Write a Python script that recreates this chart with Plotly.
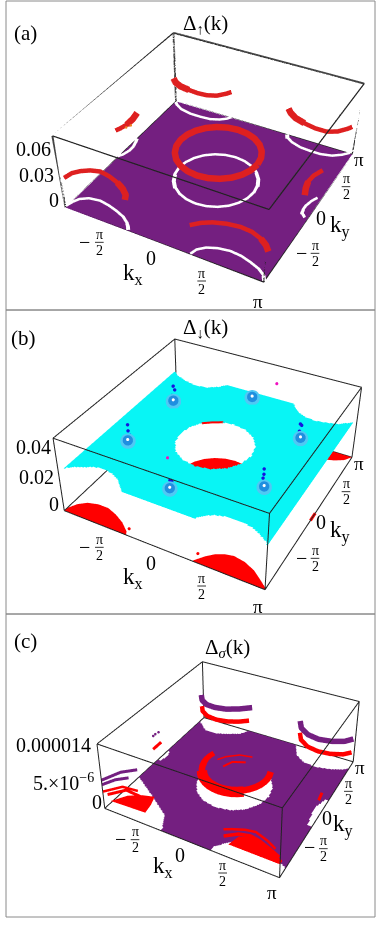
import numpy as np
import plotly.graph_objects as go

# all k values in units of pi
PURPLE = "#741f80"
CYAN = "#08f5f5"
RED = "#ff0000"
RED_A = "#de2020"

zmax_a = 0.07
zmax_b = 0.05
zmax_c = 1.4e-5

ring_kx = [.42, .406, .366, .303, .22, .124, .02, -.084, -.18, -.263, -.326, -.366, -.38, -.366, -.326, -.263, -.18, -.084, .02, .124, .22, .303, .366, .406, .42]
ring_ky = [0, .104, .2, .283, .346, .386, .4, .386, .346, .283, .2, .104, 0, -.104, -.2, -.283, -.346, -.386, -.4, -.386, -.346, -.283, -.2, -.104, 0]

# panel a, white arcs on the plane
white_fl_kx = [-1.0, -.98, -.95, -.88, -.77, -.66, -.56, -.46, -.39, -.35, -.33]
white_fl_ky = [-.98, -.91, -.85, -.80, -.78, -.80, -.83, -.87, -.92, -.96, -.99]
white_fr_kx = [.31, .33, .39, .48, .59, .70, .80, .90, .97, 1.0]
white_fr_ky = [-1.0, -.93, -.87, -.83, -.81, -.82, -.85, -.89, -.94, -.99]
white_bl_kx = [-1.0, -.95, -.87, -.74, -.62, -.51, -.42, -.36, -.33]
white_bl_ky = [.98, .93, .88, .85, .85, .86, .90, .95, 1.0]
white_br_kx = [.30, .33, .40, .51, .62, .73, .84, .92, .98]
white_br_ky = [1.0, .94, .89, .85, .84, .84, .87, .93, 1.0]
white_l_kx = [-1.0, -.97, -.95, -.95, -.97, -.99]
white_l_ky = [-.13, -.08, 0, .07, .15, .22]
white_r_kx = [.97, .93, .92, .92, .94, .97]
white_r_ky = [-.10, -.06, 0, .05, .14, .21]

# panel a, raised red arcs
red_z_a = 0.0273
red_fl_kx = [-1.0, -.98, -.93, -.86, -.77, -.66, -.55, -.46, -.39, -.36]
red_fl_ky = [-.95, -.86, -.80, -.75, -.72, -.74, -.78, -.83, -.89, -.95]
red_fr_kx = [.29, .36, .44, .55, .67, .78, .88, .95, 1.0]
red_fr_ky = [-.97, -.90, -.85, -.81, -.79, -.80, -.84, -.89, -.95]
red_bl_kx = [-.99, -.93, -.85, -.74, -.63, -.53, -.44, -.37, -.33]
red_bl_ky = [.95, .89, .85, .83, .82, .83, .87, .95, 1.02]
red_br_kx = [.29, .34, .42, .53, .65, .77, .86, .93, .96]
red_br_ky = [1.0, .94, .88, .84, .81, .81, .86, .95, 1.01]
red_l_kx = [-1.01, -.98, -.96, -.96, -.98]
red_l_ky = [-.15, -.07, .01, .12, .23]
red_r_kx = [.97, .94, .92, .93, .97]
red_r_ky = [-.16, -.07, .03, .13, .24]
orange_kx = [-.94, -.92]
orange_ky = [-.03, .02]

# panel b, cyan sheet and its holes
plane_b_kx = [-.955, 1.0]
plane_b_ky = [-1.0, .92]
plane_b_z = 0.03
hole_b_fl = [(-.97, -1.05), (-.94, -.97), (-.88, -.92), (-.81, -.89), (-.73, -.84), (-.65, -.82), (-.56, -.84), (-.47, -.88), (-.39, -.95), (-.31, -1.05)]
hole_b_fr = [(.33, -1.05), (.38, -.99), (.43, -.93), (.50, -.89), (.60, -.86), (.70, -.86), (.80, -.88), (.90, -.93), (.97, -.98), (1.02, -1.05)]
hole_b_br = [(1.02, .95), (.98, .88), (.88, .80), (.78, .77), (.68, .75), (.58, .76), (.47, .82), (.39, .92), (.36, .97), (.36, 1.0), (1.02, 1.0)]
hole_b_bl = [(-.30, 1.0), (-.33, .96), (-.41, .86), (-.51, .79), (-.63, .77), (-.75, .80), (-.87, .85), (-.96, .92), (-1.0, .97), (-1.0, 1.0)]
hole_b_c = [(.385, -.04), (.358, .096), (.281, .211), (.166, .288), (.03, .315), (-.106, .288), (-.221, .211), (-.298, .096), (-.325, -.04), (-.298, -.176), (-.221, -.291), (-.106, -.368), (.03, -.395), (.166, -.368), (.281, -.291), (.358, -.176)]

# panel b, red patches at the bottom
patch_b_fl_kx = [-1.0, -.99, -.95, -.88, -.78, -.67, -.56, -.45, -.35, -.33]
patch_b_fl_ky = [-1.0, -.94, -.87, -.81, -.78, -.78, -.82, -.88, -.96, -1.0]
patch_b_fr_kx = [.33, .35, .40, .46, .53, .61, .72, .83, .92, .98, 1.0]
patch_b_fr_ky = [-1.0, -.97, -.90, -.84, -.80, -.78, -.80, -.85, -.92, -.97, -1.0]
patch_b_br_kx = [.30, .33, .41, .52, .64, .76, .87, .95, 1.0]
patch_b_br_ky = [1.0, .92, .87, .84, .82, .83, .87, .92, 1.0]
sliver_kx = [-.24, -.16, -.07]
sliver_ky = [.20, .26, .31]
dash_b_kx = [1.0, 1.0]
dash_b_ky = [-.06, .05]
dots_b_kx = [-.35, .33]
dots_b_ky = [-.92, -.90]
# blobs sit a little above the sheet so the sheet does not cut them
spot_kx = [-.626, .014, -.646, .694, .034, .704]
spot_ky = [.328, .748, -.432, .338, -.832, -.442]
tower_kx = [-.66, -.65, -.67, -.02, -.01, -.68, -.68, -.67, .66, .67, .66, 0, .01, .67, .67, .66]
tower_ky = [.39, .40, .38, .81, .80, -.37, -.37, -.36, .40, .41, .39, -.77, -.76, -.38, -.38, -.37]
tower_z = [.0414, .0386, .035, .0334, .0323, .0414, .0373, .0341, .0402, .0391, .0357, .0357, .0345, .0418, .0384, .0352]
magenta_kx = [.20, -.22]
magenta_ky = [.90, -.45]
magenta_z = [.0415, .032]

# panel c, plane holes
hole_c_c = [(.41, -.02), (.379, .137), (.29, .27), (.157, .359), (0, .39), (-.157, .359), (-.29, .27), (-.379, .137), (-.41, -.02), (-.379, -.177), (-.29, -.31), (-.157, -.399), (0, -.43), (.157, -.399), (.29, -.31), (.379, -.177)]
hole_c_fl = [(-1.05, -1.05), (-1.05, -.38), (-.65, -.63), (-.40, -.80), (-.31, -.97), (-.30, -1.05)]
hole_c_fr = [(.28, -1.05), (.28, -.95), (.41, -.80), (.55, -.77), (.73, -.78), (.9, -.82), (1.0, -.88), (1.05, -.88), (1.05, -1.05)]
hole_c_r = [(1.05, -.23), (.96, -.23), (.92, .03), (.97, .21), (1.05, .21)]
hole_c_l = [(-1.05, -.03), (-.97, -.02), (-.95, .08), (-.98, .16), (-1.05, .16)]
hole_c_bl = [(-1.05, 1.05), (-1.05, .96), (-1.01, .92), (-.82, .76), (-.70, .76), (-.56, .82), (-.42, .90), (-.34, 1.05)]
hole_c_br = [(.28, 1.05), (.30, .99), (.38, .82), (.51, .73), (.66, .71), (.81, .75), (.95, .82), (1.05, .92), (1.05, 1.05)]

# panel c, raised pieces
disk_c_kx = [.40, .368, .292, .175, .03, -.115, -.232, -.308, -.34, -.308, -.232, -.115, .03, .175, .292, .368]
disk_c_ky = [-.03, .112, .232, .312, .34, .312, .232, .112, -.03, -.172, -.292, -.372, -.40, -.372, -.292, -.172]
band_c_kx = [.378, .394, .40, .394, .378, .35, .313, .268, .215, .157, .094, .03, -.034, -.097, -.155, -.208, -.253, -.29, -.318, -.334, -.34, -.334, -.318]
band_c_ky = [.097, .034, -.03, -.094, -.157, -.215, -.268, -.313, -.35, -.378, -.394, -.40, -.394, -.378, -.35, -.313, -.268, -.215, -.157, -.094, -.03, .034, .097]
thin_c1_kx = [-.215, -.16, -.04, .10]
thin_c1_ky = [-.01, .08, .18, .21]
thin_c2_kx = [-.10, -.05, .08]
thin_c2_ky = [-.09, .03, .09]
purple_bl_kx = [-1.0, -.92, -.82, -.70, -.56, -.42, -.30]
purple_bl_ky = [.95, .84, .78, .77, .80, .88, .98]
redc_bl_kx = [-1.0, -.93, -.82, -.68, -.54, -.42, -.32]
redc_bl_ky = [.96, .86, .79, .77, .80, .86, .94]
purple_br_kx = [.33, .40, .52, .66, .80, .93, 1.0]
purple_br_ky = [.98, .85, .76, .73, .76, .83, .92]
redc_br_kx = [.33, .40, .52, .66, .80, .93, 1.0]
redc_br_ky = [.99, .86, .77, .74, .76, .82, .90]
purple_fl1_kx = [-1.0, -.91, -.785]
purple_fl1_ky = [-1.0, -.80, -.685]
purple_fl2_kx = [-1.0, -.93, -.83]
purple_fl2_ky = [-1.0, -.87, -.78]
redc_fl1_kx = [-1.0, -.87, -.69]
redc_fl1_ky = [-1.0, -.84, -.82]
redc_fl2_kx = [-.976, -.85, -.605]
redc_fl2_ky = [-.96, -.81, -.83]
patch_c_fl_kx = [-.95, -.85, -.72, -.59, -.55, -.53]
patch_c_fl_ky = [-.95, -.80, -.72, -.68, -.80, -.93]
patch_c_fr_kx = [.47, .505, .65, .81, 1.0, 1.0]
patch_c_fr_ky = [-1.0, -.86, -.80, -.86, -.95, -1.0]
mid_c_fr_kx = [.42, .53, .64, .745, .88, .99]
mid_c_fr_ky = [-1.0, -.91, -.88, -.90, -.95, -1.0]
out_c_fr_kx = [.42, .49, .60, .70, .84, .95]
out_c_fr_ky = [-1.0, -.96, -.91, -.89, -.94, -1.0]
dots_c_l_kx = [-1.0, -.99, -1.0]
dots_c_l_ky = [-.05, 0, -.09]
dash_c_l_kx = [-1.0, -1.0]
dash_c_l_ky = [-.11, .05]
dash_c_r_kx = [.986, .97]
dash_c_r_ky = [-.05, .08]

W, H = 382, 926
FLAT = dict(ambient=1, diffuse=0, specular=0, roughness=1, fresnel=0)


def in_polygon(xx, yy, poly):
    inside = np.zeros(xx.shape, bool)
    n = len(poly)
    for i in range(n):
        x1, y1 = poly[i]
        x2, y2 = poly[(i + 1) % n]
        cross = (y1 > yy) != (y2 > yy)
        inside ^= cross & (xx < (x2 - x1) * (yy - y1) / (y2 - y1 + 1e-12) + x1)
    return inside


def plane(kx_range, ky_range, level, holes, color, scene):
    gx = np.linspace(kx_range[0], kx_range[1], 150)
    gy = np.linspace(ky_range[0], ky_range[1], 150)
    xx, yy = np.meshgrid(gx, gy)
    z = np.full(xx.shape, float(level))
    for poly in holes:
        z[in_polygon(xx, yy, poly)] = np.nan
    return go.Surface(x=gx, y=gy, z=z, scene=scene, showscale=False, hoverinfo="skip",
                      colorscale=[[0, color], [1, color]], lighting=FLAT)


def line(kx, ky, z, color, width, scene):
    return go.Scatter3d(x=kx, y=ky, z=[z] * len(kx), mode="lines", line=dict(color=color, width=width),
                        scene=scene, hoverinfo="skip", showlegend=False)


def dots(kx, ky, z, color, size, scene):
    zs = [z] * len(kx) if np.isscalar(z) else z
    return go.Scatter3d(x=kx, y=ky, z=zs, mode="markers", marker=dict(color=color, size=size, line=dict(width=0)),
                        scene=scene, hoverinfo="skip", showlegend=False)


def patch(kx, ky, z, color, scene):
    n = len(kx)
    return go.Mesh3d(x=kx, y=ky, z=[z] * n, i=[0] * (n - 2), j=list(range(1, n - 1)), k=list(range(2, n)),
                     color=color, scene=scene, lighting=FLAT, flatshading=True, hoverinfo="skip")


def box(zmax, scene, width=2):
    xs, ys, zs = [], [], []
    cx = [-1, 1, 1, -1, -1]
    cy = [-1, -1, 1, 1, -1]
    for level in (0, zmax):
        xs += cx + [None]
        ys += cy + [None]
        zs += [level] * 5 + [None]
    for x, y in zip(cx[:4], cy[:4]):
        xs += [x, x, None]
        ys += [y, y, None]
        zs += [0, zmax, None]
    return go.Scatter3d(x=xs, y=ys, z=zs, mode="lines", line=dict(color="#222222", width=width),
                        scene=scene, hoverinfo="skip", showlegend=False)


fig = go.Figure()

# (a)
eps_a = zmax_a * 0.004
fig.add_trace(plane([-1, 1], [-1, 1], 0, [], PURPLE, "scene"))
for kx, ky in [(ring_kx, ring_ky), (white_fl_kx, white_fl_ky), (white_fr_kx, white_fr_ky), (white_bl_kx, white_bl_ky),
               (white_br_kx, white_br_ky), (white_l_kx, white_l_ky), (white_r_kx, white_r_ky)]:
    fig.add_trace(line(kx, ky, eps_a, "white", 8, "scene"))
fig.add_trace(line(ring_kx, [v + .04 for v in ring_ky], red_z_a, RED_A, 13, "scene"))
for kx, ky in [(red_fl_kx, red_fl_ky), (red_fr_kx, red_fr_ky), (red_bl_kx, red_bl_ky), (red_br_kx, red_br_ky),
               (red_l_kx, red_l_ky), (red_r_kx, red_r_ky)]:
    fig.add_trace(line(kx, ky, red_z_a, RED_A, 9, "scene"))
# arcs get thicker towards one end
for kx, ky in [(red_fl_kx[-4:], red_fl_ky[-4:]), (red_fr_kx[-3:], red_fr_ky[-3:]), (red_bl_kx[:4], red_bl_ky[:4]),
               (red_br_kx[:4], red_br_ky[:4]), (red_l_kx[2:], red_l_ky[2:]), (red_r_kx[:3], red_r_ky[:3])]:
    fig.add_trace(line(kx, ky, red_z_a, RED_A, 13, "scene"))
fig.add_trace(dots(orange_kx, orange_ky, red_z_a, "#f08020", 1.5, "scene"))
fig.add_trace(box(zmax_a, "scene", 2.4))
# the top back edges and left upright come out too faint in this camera, go over them again
fig.add_trace(line([-1, 1, 1], [1, 1, -1], zmax_a, "#444444", 4, "scene"))
fig.add_trace(go.Scatter3d(x=[-1, -1, None, -1, -1], y=[-1, -1, None, 1, 1], z=[0, zmax_a, None, 0, zmax_a], mode="lines",
                           line=dict(color="#444444", width=4), scene="scene", hoverinfo="skip", showlegend=False))

# (b)
fig.add_trace(plane(plane_b_kx, plane_b_ky, plane_b_z, [hole_b_fl, hole_b_fr, hole_b_br, hole_b_bl, hole_b_c], CYAN, "scene2"))
fig.add_trace(patch(patch_b_fl_kx, patch_b_fl_ky, 0, RED, "scene2"))
fig.add_trace(patch(patch_b_fr_kx, patch_b_fr_ky, 0, RED, "scene2"))
fig.add_trace(patch(patch_b_br_kx, patch_b_br_ky, 0, RED, "scene2"))
fig.add_trace(patch(ring_kx, ring_ky, 0, RED, "scene2"))
fig.add_trace(line(sliver_kx, sliver_ky, plane_b_z, RED, 4, "scene2"))
fig.add_trace(line(dash_b_kx, dash_b_ky, 0, RED, 6, "scene2"))
fig.add_trace(dots(dots_b_kx, dots_b_ky, 0, RED, 1.8, "scene2"))
fig.add_trace(dots(spot_kx, spot_ky, plane_b_z + .0035, "#50c8f4", 9, "scene2"))
fig.add_trace(dots(spot_kx, spot_ky, plane_b_z + .0040, "#1f8fe0", 6, "scene2"))
fig.add_trace(dots(spot_kx, spot_ky, plane_b_z + .0045, "white", 1.8, "scene2"))
fig.add_trace(dots(tower_kx, tower_ky, tower_z, "#1414e0", 2, "scene2"))
fig.add_trace(dots(magenta_kx, magenta_ky, magenta_z, "#f010c0", 1.8, "scene2"))
fig.add_trace(box(zmax_b, "scene2"))

# (c)
r_hi, r_lo = zmax_c * .24, zmax_c * .45
fig.add_trace(plane([-1, 1], [-1, 1], 0, [hole_c_c, hole_c_fl, hole_c_fr, hole_c_r, hole_c_l, hole_c_bl, hole_c_br], PURPLE, "scene3"))
fig.add_trace(patch(disk_c_kx, disk_c_ky, zmax_c * .27, PURPLE, "scene3"))
fig.add_trace(line(band_c_kx, band_c_ky, zmax_c * .29, RED, 13, "scene3"))
fig.add_trace(line(band_c_kx[7:18], band_c_ky[7:18], zmax_c * .27, RED, 21, "scene3"))
fig.add_trace(line(thin_c1_kx, thin_c1_ky, zmax_c * .32, RED, 3, "scene3"))
fig.add_trace(line(thin_c2_kx, thin_c2_ky, zmax_c * .32, RED, 4, "scene3"))
fig.add_trace(line(purple_bl_kx, purple_bl_ky, r_lo, PURPLE, 11, "scene3"))
fig.add_trace(line(redc_bl_kx, redc_bl_ky, r_hi, RED, 9, "scene3"))
fig.add_trace(line(purple_br_kx, purple_br_ky, r_lo, PURPLE, 11, "scene3"))
fig.add_trace(line(redc_br_kx, redc_br_ky, r_hi, RED, 9, "scene3"))
fig.add_trace(line(purple_fl1_kx, purple_fl1_ky, zmax_c * .45, PURPLE, 6, "scene3"))
fig.add_trace(line(purple_fl2_kx, purple_fl2_ky, zmax_c * .38, PURPLE, 6, "scene3"))
fig.add_trace(line(redc_fl1_kx, redc_fl1_ky, zmax_c * .27, RED, 5, "scene3"))
fig.add_trace(line(redc_fl2_kx, redc_fl2_ky, zmax_c * .20, RED, 6, "scene3"))
fig.add_trace(patch(patch_c_fl_kx, patch_c_fl_ky, zmax_c * .10, RED, "scene3"))
fig.add_trace(patch(patch_c_fr_kx, patch_c_fr_ky, zmax_c * .20, RED, "scene3"))
fig.add_trace(line(mid_c_fr_kx, mid_c_fr_ky, zmax_c * .30, RED, 7, "scene3"))
fig.add_trace(line(out_c_fr_kx, out_c_fr_ky, zmax_c * .40, RED, 5, "scene3"))
fig.add_trace(dots(dots_c_l_kx, dots_c_l_ky, r_lo, PURPLE, 1.5, "scene3"))
fig.add_trace(line(dash_c_l_kx, dash_c_l_ky, r_hi, RED, 6, "scene3"))
fig.add_trace(line(dash_c_r_kx, dash_c_r_ky, r_hi, RED, 6, "scene3"))
fig.add_trace(box(zmax_c, "scene3"))


def scene_layout(x0, y0, y1, aspect_z, zmax, eye, center, up):
    hidden = dict(visible=False, showgrid=False, zeroline=False, showbackground=False)
    return dict(
        domain=dict(x=[x0 / W, 1], y=[1 - y1 / H, 1 - y0 / H]),
        xaxis=dict(range=[-1, 1], **hidden),
        yaxis=dict(range=[-1, 1], **hidden),
        zaxis=dict(range=[0, zmax], **hidden),
        aspectmode="manual",
        aspectratio=dict(x=1, y=1, z=aspect_z),
        dragmode="orbit",
        camera=dict(eye=dict(zip("xyz", eye)), center=dict(zip("xyz", center)), up=dict(zip("xyz", up))),
    )


SERIF = "Liberation Serif"
annotations = []
shapes = []


def text(zx, zy, label, size=20, top=0):
    annotations.append(dict(x=zx / 3 / W, y=1 - (top + zy / 3) / H, xref="paper", yref="paper", text=label, showarrow=False,
                            xanchor="center", yanchor="middle", font=dict(family=SERIF, size=size, color="black")))


def fraction(zx, zy, top):
    text(zx, zy - 24, "π", 14, top)
    text(zx, zy + 24, "2", 14, top)
    shapes.append(dict(type="line", xref="paper", yref="paper", x0=(zx - 13) / 3 / W, x1=(zx + 13) / 3 / W,
                       y0=1 - (top + zy / 3) / H, y1=1 - (top + zy / 3) / H, line=dict(color="black", width=0.8)))


def ticks(top, kx_pts, ky_pts):
    mx, fx1, zero_x, lab_x, fx2, pi_x = kx_pts
    my, fy1, zero_y, lab_y, fy2, pi_y = ky_pts
    text(mx[0], mx[1], "−", 20, top)
    fraction(fx1[0], fx1[1], top)
    text(zero_x[0], zero_x[1], "0", 20, top)
    text(lab_x[0], lab_x[1], "k<sub>x</sub>", 23, top)
    fraction(fx2[0], fx2[1], top)
    text(pi_x[0], pi_x[1], "π", 19, top)
    text(my[0], my[1], "−", 20, top)
    fraction(fy1[0], fy1[1], top)
    text(zero_y[0], zero_y[1], "0", 20, top)
    text(lab_y[0], lab_y[1], "k<sub>y</sub>", 23, top)
    fraction(fy2[0], fy2[1], top)
    text(pi_y[0], pi_y[1], "π", 19, top)


text(75, 100, "(a)", 21)
text(618, 72, "Δ<sub>↑</sub>(k)", 21)
text(100, 447, "0.06")
text(108, 525, "0.03")
text(163, 600, "0")
ticks(0, [(253, 725), (298, 727), (452, 775), (398, 822), (605, 843), (775, 905)],
      [(905, 760), (945, 760), (962, 653), (1020, 680), (1038, 560), (1078, 478)])

text(70, 100, "(b)", 21, 305)
text(618, 68, "Δ<sub>↓</sub>(k)", 21, 305)
text(100, 425, "0.04", 20, 305)
text(108, 515, "0.02", 20, 305)
text(163, 597, "0", 20, 305)
ticks(305, [(253, 725), (298, 727), (452, 773), (400, 820), (605, 843), (775, 903)],
      [(905, 760), (945, 760), (962, 650), (1020, 680), (1038, 560), (1078, 475)])

text(75, 88, "(c)", 21, 612)
text(683, 108, "Δ<sub><i>σ</i></sub>(k)", 21, 612)
text(160, 400, "0.000014", 20, 612)
text(190, 510, "5.×10<sup>−6</sup>", 20, 612)
text(290, 570, "0", 20, 612)
ticks(612, [(360, 680), (405, 683), (540, 728), (490, 765), (668, 783), (815, 840)],
      [(928, 705), (970, 710), (982, 618), (1030, 640), (1045, 538), (1080, 467)])

for y0, y1 in [(1, 310), (310, 614), (614, 917)]:
    shapes.append(dict(type="rect", xref="paper", yref="paper", x0=6 / W, x1=375 / W, y0=1 - y1 / H, y1=1 - y0 / H,
                       line=dict(color="#8a8a8a", width=1)))

fig.update_layout(
    width=W,
    height=H,
    margin=dict(l=0, r=0, t=0, b=0),
    paper_bgcolor="white",
    showlegend=False,
    annotations=annotations,
    shapes=shapes,
    scene=scene_layout(26, 0, 620, .386, zmax_a, [1.339, -2.509, 2.004], [.221, -.506, -.503], [-.352, .649, .675]),
    scene2=scene_layout(10, 138.6, 757.4, .402, zmax_b, [1.305, -2.422, 2.013], [-.072, -.041, .001], [-.281, .519, .807]),
    scene3=scene_layout(90, 394, 926, .403, zmax_c, [1.35, -2.475, 2.004], [-.104, .202, .444], [-.216, .401, .89]),
)

fig.write_html("out.html", post_script="document.body.style.margin='0';", config=dict(displayModeBar=False))
